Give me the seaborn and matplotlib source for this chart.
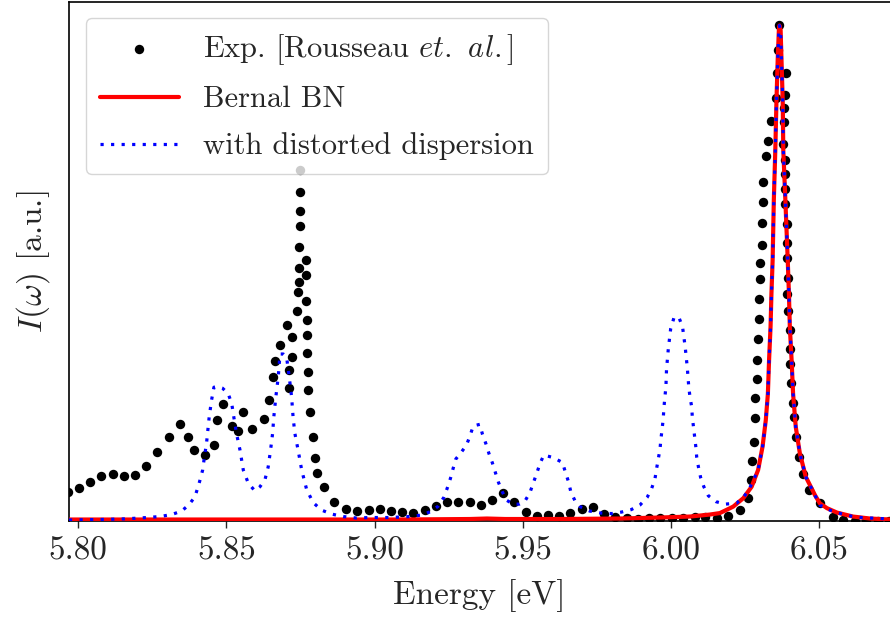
import matplotlib
matplotlib.use("Agg")
import matplotlib.pyplot as plt
import seaborn as sns
import pandas as pd

# Experimental spectrum (Rousseau et al.), energies in eV, intensity in a.u.
exp_energy = [5.7966, 5.8002, 5.8039, 5.8078, 5.8116, 5.8154, 5.8192, 5.8229, 5.8267, 5.8305,
              5.8344, 5.8370, 5.8390, 5.8428, 5.8458, 5.8469, 5.8487, 5.8519, 5.8539, 5.8556,
              5.8588, 5.8626, 5.8644, 5.8656, 5.8664, 5.8682, 5.8703, 5.8710, 5.8710, 5.8721,
              5.8721, 5.8737, 5.8742, 5.8744, 5.8744, 5.8746, 5.8747, 5.8748, 5.8747, 5.8748,
              5.8767, 5.8767, 5.8767, 5.8771, 5.8771, 5.8773, 5.8777, 5.8777, 5.8783, 5.8792,
              5.8800, 5.8805, 5.8829, 5.8864, 5.8902, 5.8940, 5.8980, 5.9017, 5.9055, 5.9093,
              5.9130, 5.9169, 5.9207, 5.9244, 5.9282, 5.9321, 5.9359, 5.9396, 5.9434, 5.9471,
              5.9510, 5.9548, 5.9586, 5.9623, 5.9661, 5.9699, 5.9738, 5.9775, 5.9812, 5.9851,
              5.9889, 5.9926, 5.9963, 6.0002, 6.0041, 6.0081, 6.0116, 6.0154, 6.0193, 6.0232,
              6.0260, 6.0270, 6.0275, 6.0279, 6.0283, 6.0285, 6.0289, 6.0291, 6.0293, 6.0296,
              6.0298, 6.0300, 6.0300, 6.0306, 6.0307, 6.0309, 6.0311, 6.0320, 6.0328, 6.0339,
              6.0356, 6.0358, 6.0360, 6.0365, 6.0387, 6.0384, 6.0380, 6.0383, 6.0379, 6.0385,
              6.0385, 6.0385, 6.0384, 6.0391, 6.0390, 6.0390, 6.0395, 6.0393, 6.0395, 6.0401,
              6.0401, 6.0402, 6.0405, 6.0412, 6.0415, 6.0421, 6.0432, 6.0444, 6.0466, 6.0502,
              6.0545, 6.0581, 6.0620, 6.0659, 6.0698, 6.0737]
exp_intensity = [0.059, 0.067, 0.079, 0.091, 0.095, 0.091, 0.093, 0.112, 0.139, 0.169,
                 0.196, 0.169, 0.143, 0.133, 0.154, 0.203, 0.236, 0.191, 0.182, 0.220,
                 0.185, 0.206, 0.245, 0.290, 0.323, 0.355, 0.396, 0.304, 0.269, 0.330,
                 0.371, 0.423, 0.462, 0.483, 0.511, 0.553, 0.595, 0.626, 0.663, 0.708,
                 0.526, 0.496, 0.444, 0.405, 0.375, 0.339, 0.300, 0.265, 0.219, 0.170,
                 0.128, 0.097, 0.068, 0.039, 0.024, 0.020, 0.022, 0.024, 0.021, 0.018,
                 0.017, 0.023, 0.031, 0.039, 0.038, 0.038, 0.033, 0.042, 0.057, 0.038,
                 0.019, 0.011, 0.012, 0.011, 0.016, 0.025, 0.028, 0.015, 0.008, 0.006,
                 0.005, 0.006, 0.007, 0.007, 0.007, 0.009, 0.009, 0.007, 0.010, 0.022,
                 0.047, 0.083, 0.122, 0.160, 0.208, 0.248, 0.287, 0.325, 0.368, 0.407,
                 0.448, 0.488, 0.520, 0.558, 0.602, 0.643, 0.684, 0.736, 0.767, 0.808,
                 0.854, 0.904, 0.950, 1.000, 0.904, 0.860, 0.833, 0.805, 0.761, 0.729,
                 0.701, 0.669, 0.639, 0.600, 0.562, 0.531, 0.491, 0.459, 0.424, 0.385,
                 0.347, 0.316, 0.279, 0.239, 0.210, 0.170, 0.130, 0.095, 0.063, 0.036,
                 0.009, 0.003, 0.001, 0.001, 0.001, 0.001]

# Bernal BN calculation
bernal_energy = [5.7969, 5.8411, 5.8748, 5.9085, 5.9322, 5.9379, 5.9440, 5.9625, 5.9828, 5.9963,
                 6.0064, 6.0131, 6.0165, 6.0210, 6.0244, 6.0272, 6.0294, 6.0309, 6.0320, 6.0327,
                 6.0331, 6.0336, 6.0339, 6.0343, 6.0347, 6.0352, 6.0356, 6.0360, 6.0364, 6.0366,
                 6.0370, 6.0373, 6.0377, 6.0379, 6.0386, 6.0394, 6.0398, 6.0401, 6.0407, 6.0412,
                 6.0421, 6.0435, 6.0455, 6.0486, 6.0502, 6.0526, 6.0560, 6.0614, 6.0671, 6.0739]
bernal_intensity = [0.003, 0.003, 0.003, 0.003, 0.004, 0.005, 0.004, 0.004, 0.005, 0.007,
                    0.009, 0.013, 0.016, 0.029, 0.046, 0.069, 0.103, 0.150, 0.204, 0.257,
                    0.325, 0.392, 0.459, 0.526, 0.647, 0.748, 0.849, 0.929, 0.990, 1.000,
                    0.990, 0.929, 0.849, 0.748, 0.647, 0.526, 0.459, 0.392, 0.325, 0.257,
                    0.190, 0.136, 0.089, 0.052, 0.036, 0.026, 0.017, 0.009, 0.005, 0.003]

# Calculation with distorted dispersion
distorted_energy = [5.7969, 5.8073, 5.8146, 5.8208, 5.8276, 5.8315, 5.8349, 5.8374, 5.8394, 5.8408,
                    5.8420, 5.8426, 5.8433, 5.8442, 5.8450, 5.8458, 5.8472, 5.8487, 5.8506, 5.8518,
                    5.8525, 5.8534, 5.8546, 5.8557, 5.8574, 5.8596, 5.8613, 5.8630, 5.8641, 5.8649,
                    5.8656, 5.8660, 5.8667, 5.8675, 5.8681, 5.8692, 5.8703, 5.8712, 5.8720, 5.8725,
                    5.8731, 5.8742, 5.8754, 5.8771, 5.8793, 5.8821, 5.8855, 5.8894, 5.8939, 5.8984,
                    5.9052, 5.9119, 5.9159, 5.9189, 5.9215, 5.9234, 5.9245, 5.9256, 5.9265, 5.9274,
                    5.9294, 5.9310, 5.9322, 5.9333, 5.9355, 5.9364, 5.9375, 5.9386, 5.9397, 5.9408,
                    5.9418, 5.9431, 5.9445, 5.9468, 5.9488, 5.9507, 5.9524, 5.9535, 5.9547, 5.9558,
                    5.9571, 5.9603, 5.9634, 5.9644, 5.9655, 5.9662, 5.9676, 5.9693, 5.9726, 5.9764,
                    5.9800, 5.9833, 5.9866, 5.9895, 5.9920, 5.9935, 5.9946, 5.9951, 5.9957, 5.9963,
                    5.9966, 5.9970, 5.9974, 5.9976, 5.9979, 5.9983, 5.9985, 5.9991, 5.9999, 6.0010,
                    6.0026, 6.0039, 6.0048, 6.0055, 6.0060, 6.0064, 6.0070, 6.0072, 6.0076, 6.0080,
                    6.0084, 6.0087, 6.0093, 6.0100, 6.0111, 6.0126, 6.0152, 6.0182, 6.0221, 6.0244,
                    6.0266, 6.0294, 6.0309, 6.0320, 6.0327, 6.0331, 6.0336, 6.0339, 6.0343, 6.0347,
                    6.0352, 6.0356, 6.0360, 6.0364, 6.0366, 6.0370, 6.0373, 6.0377, 6.0379, 6.0386,
                    6.0394, 6.0398, 6.0401, 6.0407, 6.0412, 6.0421, 6.0435, 6.0455, 6.0486, 6.0502,
                    6.0540, 6.0573, 6.0607, 6.0641, 6.0674, 6.0739]
distorted_intensity = [0.002, 0.003, 0.004, 0.006, 0.009, 0.013, 0.020, 0.033, 0.049, 0.076,
                       0.103, 0.130, 0.157, 0.210, 0.244, 0.270, 0.271, 0.268, 0.257, 0.237,
                       0.210, 0.177, 0.143, 0.103, 0.076, 0.061, 0.069, 0.083, 0.109, 0.143,
                       0.177, 0.210, 0.251, 0.291, 0.337, 0.337, 0.331, 0.291, 0.251, 0.210,
                       0.177, 0.143, 0.103, 0.063, 0.037, 0.022, 0.014, 0.009, 0.006, 0.007,
                       0.007, 0.009, 0.012, 0.019, 0.030, 0.048, 0.066, 0.086, 0.106, 0.125,
                       0.140, 0.153, 0.172, 0.192, 0.195, 0.175, 0.157, 0.136, 0.118, 0.097,
                       0.078, 0.059, 0.042, 0.034, 0.034, 0.040, 0.057, 0.076, 0.096, 0.116,
                       0.133, 0.128, 0.118, 0.098, 0.078, 0.059, 0.041, 0.029, 0.020, 0.016,
                       0.015, 0.018, 0.023, 0.032, 0.048, 0.066, 0.085, 0.104, 0.124, 0.145,
                       0.165, 0.185, 0.207, 0.227, 0.247, 0.271, 0.306, 0.347, 0.388, 0.410,
                       0.412, 0.392, 0.351, 0.310, 0.271, 0.251, 0.230, 0.210, 0.190, 0.169,
                       0.149, 0.128, 0.108, 0.088, 0.069, 0.051, 0.039, 0.034, 0.036, 0.047,
                       0.067, 0.103, 0.150, 0.204, 0.257, 0.325, 0.392, 0.459, 0.526, 0.647,
                       0.748, 0.849, 0.929, 0.990, 1.000, 0.990, 0.929, 0.849, 0.748, 0.647,
                       0.526, 0.459, 0.392, 0.325, 0.257, 0.190, 0.136, 0.089, 0.052, 0.032,
                       0.021, 0.015, 0.010, 0.007, 0.006, 0.004]

x_ticks = [5.80, 5.85, 5.90, 5.95, 6.00, 6.05]

df_exp = pd.DataFrame({"Energy": exp_energy, "Intensity": exp_intensity})
df_bernal = pd.DataFrame({"Energy": bernal_energy, "Intensity": bernal_intensity})
df_dist = pd.DataFrame({"Energy": distorted_energy, "Intensity": distorted_intensity})

sns.set_theme(style="ticks")
# Computer Modern look (font shipped with matplotlib)
plt.rcParams.update({
    "font.family": "cmr10",
    "mathtext.fontset": "cm",
    "axes.formatter.use_mathtext": True,
    "axes.unicode_minus": False,
    "font.size": 24,
})

fig = plt.figure(figsize=(8.9, 6.18), dpi=100)
ax = fig.add_axes([69 / 890, 97 / 618, 821 / 890, 519.5 / 618])

sns.scatterplot(data=df_exp, x="Energy", y="Intensity", ax=ax, color="black",
                s=46, linewidth=0, label=r"Exp. [Rousseau $\mathit{et.}$ $\mathit{al.}$]",
                zorder=2)
sns.lineplot(data=df_bernal, x="Energy", y="Intensity", ax=ax, color="red",
             linewidth=3, estimator=None, sort=False, label="Bernal BN", zorder=3)
sns.lineplot(data=df_dist, x="Energy", y="Intensity", ax=ax, color="blue",
             linewidth=2.3, linestyle=(0, (1, 2.3)), estimator=None, sort=False,
             label="with distorted dispersion", zorder=4)

ax.set_xlim(5.7969, 6.0739)
ax.set_ylim(0, 1.0484)
ax.set_xticks(x_ticks)
ax.set_xticklabels([f"{t:.2f}" for t in x_ticks])
ax.set_yticks([])
ax.tick_params(axis="x", labelsize=24, length=5, width=1, direction="out", pad=6)
ax.set_xlabel("Energy [eV]", fontsize=24, labelpad=10)
ax.set_ylabel(r"$I(\omega)$ [a.u.]", fontsize=24, labelpad=12)

for side in ["left", "bottom", "top"]:
    ax.spines[side].set_color("black")
    ax.spines[side].set_linewidth(1.2)
ax.spines["right"].set_visible(False)

leg = ax.legend(loc="upper left", fontsize=22, frameon=True, framealpha=0.8,
                edgecolor="0.8", handlelength=2.6, handletextpad=0.8,
                borderaxespad=0.55, labelspacing=0.62, borderpad=0.45)
leg.get_frame().set_linewidth(1.0)

fig.savefig("out.png", dpi=100)
plt.close(fig)
